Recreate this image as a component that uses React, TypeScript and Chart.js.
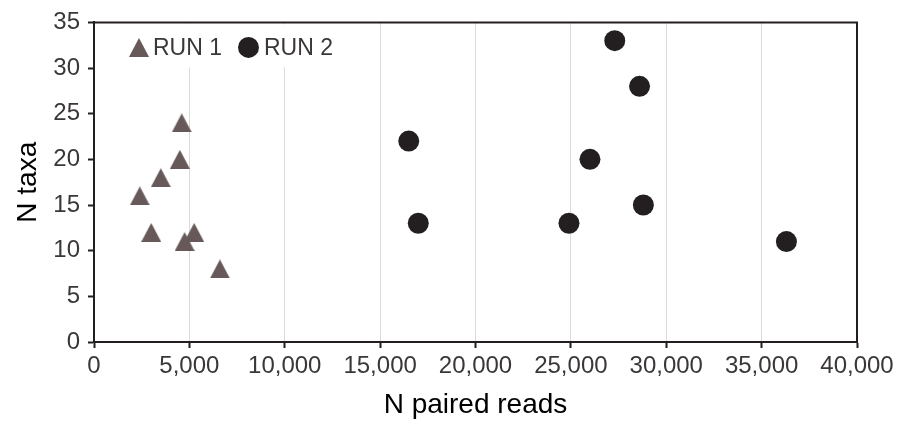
import React, { useEffect, useRef } from "react";
import { Chart, registerables } from "chart.js";

Chart.register(...registerables);

// ---- Data ----
const run1Reads = [4600, 4500, 3500, 2400, 3000, 5250, 4750, 6600];
const run1Taxa = [24, 20, 18, 16, 12, 12, 11, 8];
const run2Reads = [27300, 28600, 16500, 26000, 28800, 17000, 24900, 36300];
const run2Taxa = [33, 28, 22, 20, 15, 13, 13, 11];
const seriesNames = ["RUN 1", "RUN 2"];
const xTicks = [0, 5000, 10000, 15000, 20000, 25000, 30000, 35000, 40000];
const yTicks = [0, 5, 10, 15, 20, 25, 30, 35];
const xTitle = "N paired reads";
const yTitle = "N taxa";

const RUN1_COLOR = "#675959";
const RUN2_COLOR = "#231f20";
const AXIS_COLOR = "#231f20";
const TICK_TEXT = "#3b3738";
const GRID_COLOR = "#dcdad6";
const FONT = "'Liberation Sans', Arial, sans-serif";

function makeTriangle(w: number, h: number, color: string): HTMLCanvasElement {
  const c = document.createElement("canvas");
  c.width = w;
  c.height = h;
  const ctx = c.getContext("2d")!;
  ctx.fillStyle = color;
  ctx.beginPath();
  ctx.moveTo(w / 2, 0);
  ctx.lineTo(w, h);
  ctx.lineTo(0, h);
  ctx.closePath();
  ctx.fill();
  return c;
}

export default function App() {
  const ref = useRef<HTMLCanvasElement | null>(null);

  useEffect(() => {
    document.body.style.margin = "0";
    const canvas = ref.current;
    if (!canvas) return;
    const tri = makeTriangle(20, 19, RUN1_COLOR);

    const frame = {
      id: "frameAndLegend",
      afterDatasetsDraw(chart: any) {
        const { ctx, chartArea } = chart;
        const { left, top, right, bottom } = chartArea;
        ctx.save();
        // legend background (hides grid lines)
        ctx.fillStyle = "#ffffff";
        ctx.fillRect(left + 3, top + 2, 250, 43);
        // top & right frame
        ctx.strokeStyle = AXIS_COLOR;
        ctx.lineWidth = 2;
        ctx.beginPath();
        ctx.moveTo(left, top);
        ctx.lineTo(right, top);
        ctx.lineTo(right, bottom);
        ctx.stroke();
        // legend items
        const cy = top + 25;
        ctx.drawImage(tri, left + 35, cy - 9.5);
        ctx.fillStyle = TICK_TEXT;
        ctx.font = `23px ${FONT}`;
        ctx.textBaseline = "alphabetic";
        ctx.textAlign = "left";
        ctx.fillText(seriesNames[0], left + 59, cy + 8);
        ctx.fillStyle = RUN2_COLOR;
        ctx.beginPath();
        ctx.arc(left + 154.5, cy, 10.5, 0, Math.PI * 2);
        ctx.fill();
        ctx.fillStyle = TICK_TEXT;
        ctx.fillText(seriesNames[1], left + 170, cy + 8);
        ctx.restore();
      },
    };

    const chart = new Chart(canvas, {
      type: "scatter",
      data: {
        datasets: [
          {
            label: seriesNames[0],
            data: run1Reads.map((x, i) => ({ x, y: run1Taxa[i] })),
            pointStyle: tri as any,
            backgroundColor: RUN1_COLOR,
            borderColor: RUN1_COLOR,
            pointRadius: 10,
          },
          {
            label: seriesNames[1],
            data: run2Reads.map((x, i) => ({ x, y: run2Taxa[i] })),
            pointStyle: "circle",
            backgroundColor: RUN2_COLOR,
            borderColor: RUN2_COLOR,
            borderWidth: 0,
            pointRadius: 10.5,
          },
        ],
      },
      options: {
        responsive: false,
        animation: false,
        devicePixelRatio: 1,
        layout: { padding: { top: 20, right: 52, left: 0, bottom: 0 } },
        plugins: {
          legend: { display: false },
          tooltip: { enabled: false },
        },
        scales: {
          x: {
            type: "linear",
            min: xTicks[0],
            max: xTicks[xTicks.length - 1],
            afterBuildTicks: (s: any) => {
              s.ticks = xTicks.map((v) => ({ value: v }));
            },
            afterFit: (s: any) => {
              s.height = 82;
            },
            grid: {
              color: GRID_COLOR,
              lineWidth: 1,
              tickColor: AXIS_COLOR,
              tickLength: 6,
              tickWidth: 2,
            },
            border: { color: AXIS_COLOR, width: 2 },
            ticks: {
              color: TICK_TEXT,
              font: { family: FONT, size: 24 },
              padding: 4,
              maxRotation: 0,
              autoSkip: false,
              callback: (v: any) => Number(v).toLocaleString("en-US"),
            },
            title: {
              display: true,
              text: xTitle,
              color: "#000000",
              font: { family: FONT, size: 28 },
              padding: { top: 0, bottom: 2 },
            },
          },
          y: {
            type: "linear",
            min: yTicks[0],
            max: yTicks[yTicks.length - 1],
            afterBuildTicks: (s: any) => {
              s.ticks = yTicks.map((v) => ({ value: v }));
            },
            afterFit: (s: any) => {
              s.width = 94;
            },
            grid: {
              drawOnChartArea: false,
              tickColor: AXIS_COLOR,
              tickLength: 6,
              tickWidth: 2,
            },
            border: { color: AXIS_COLOR, width: 2 },
            ticks: {
              color: TICK_TEXT,
              font: { family: FONT, size: 24 },
              padding: 8,
              autoSkip: false,
            },
            title: {
              display: true,
              text: yTitle,
              color: "#000000",
              font: { family: FONT, size: 28 },
              padding: { top: 11, bottom: 0 },
            },
          },
        },
      },
      plugins: [frame],
    });

    return () => chart.destroy();
  }, []);

  return (
    <div style={{ width: 909, height: 424 }}>
      <canvas ref={ref} width={909} height={424} style={{ display: "block" }} />
    </div>
  );
}
